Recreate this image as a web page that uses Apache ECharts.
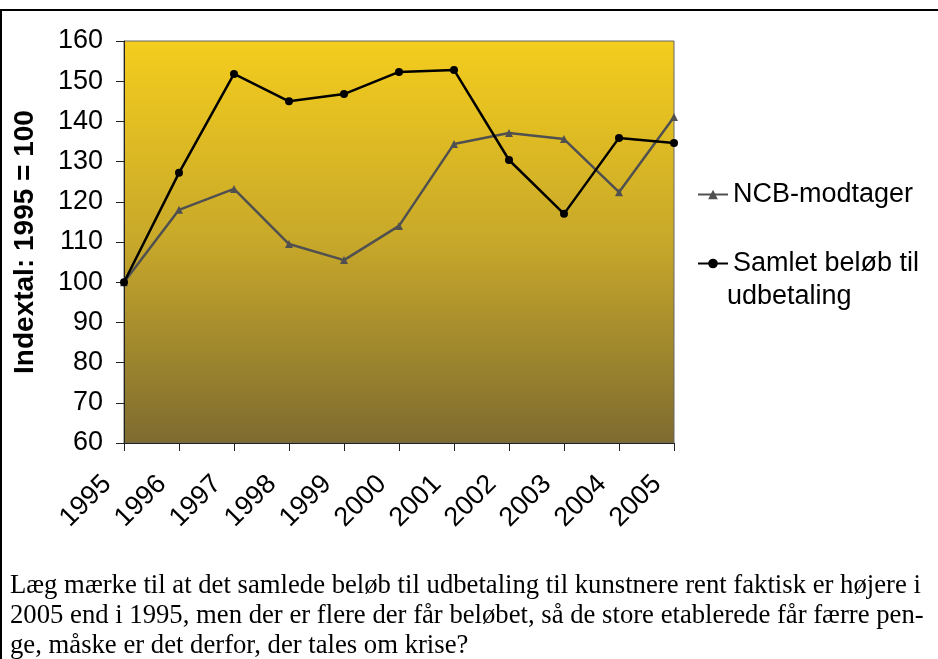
<!DOCTYPE html>
<html>
<head>
<meta charset="utf-8">
<script src="https://cdn.jsdelivr.net/npm/echarts@6/dist/echarts.min.js"></script>
<style>
  html, body { margin: 0; padding: 0; background: #fff; }
  #chart { width: 938px; height: 659px; }
</style>
</head>
<body>
<div id="chart"></div>
<script>
// årstal og indeks (1995 = 100)
const years = ['1995', '1996', '1997', '1998', '1999', '2000', '2001', '2002', '2003', '2004', '2005']
const ncb = [100, 118, 123.2, 109.5, 105.5, 114, 134.4, 137.1, 135.6, 122.4, 141.1]
const samlet = [100, 127.2, 151.8, 145, 146.8, 152.3, 152.8, 130.4, 117, 135.9, 134.6]

const caption = [
  'Læg mærke til at det samlede beløb til udbetaling til kunstnere rent faktisk er højere i',
  '2005 end i 1995, men der er flere der får beløbet, så de store etablerede får færre pen-',
  'ge, måske er det derfor, der tales om krise?'
]

const sans = 'Liberation Sans, Arial, sans-serif'
const chart = echarts.init(document.getElementById('chart'))

chart.setOption({
  animation: false,
  grid: {
    left: 124, top: 41, width: 550, height: 402,
    show: true,
    borderColor: '#666', borderWidth: 1,
    backgroundColor: new echarts.graphic.LinearGradient(0, 0, 0, 1, [
      { offset: 0, color: '#f4cd1d' },
      { offset: 0.5, color: '#c7a82a' },
      { offset: 1, color: '#7e6b30' }
    ])
  },
  xAxis: {
    type: 'category',
    data: years,
    boundaryGap: false,
    axisLine: { lineStyle: { color: '#222', width: 1 } },
    axisTick: { length: 8, lineStyle: { color: '#222' } },
    axisLabel: {
      rotate: 45, fontFamily: sans, fontSize: 27, color: '#000',
      margin: 20, padding: [0, 24, 0, 0]
    }
  },
  yAxis: {
    type: 'value',
    min: 60, max: 160, interval: 10,
    name: 'Indextal: 1995 = 100',
    nameLocation: 'middle',
    nameRotate: 90,
    nameGap: 85,
    nameTextStyle: { fontFamily: sans, fontSize: 28, fontWeight: 'bold', color: '#000' },
    splitLine: { show: false },
    axisLine: { show: true, lineStyle: { color: '#222', width: 1 } },
    axisTick: { show: true, length: 8, lineStyle: { color: '#222' } },
    axisLabel: { fontFamily: sans, fontSize: 27, color: '#000', margin: 21 }
  },
  legend: [
    {
      data: ['NCB-modtager'],
      left: 692, top: 176,
      itemWidth: 30, itemHeight: 12,
      textStyle: { fontFamily: sans, fontSize: 27, color: '#000' }
    },
    {
      data: ['Samlet beløb til udbetaling'],
      formatter: () => 'Samlet beløb til',
      left: 692, top: 245,
      itemWidth: 30, itemHeight: 12,
      textStyle: { fontFamily: sans, fontSize: 27, color: '#000' }
    }
  ],
  graphic: [
    {
      type: 'rect',
      shape: { x: 1, y: 10, width: 1000, height: 1000 },
      style: { fill: 'none', stroke: '#000', lineWidth: 2 },
      silent: true
    },
    {
      type: 'text', left: 727, top: 283,
      style: { text: 'udbetaling', fontFamily: sans, fontSize: 27, fill: '#000' }
    },
    {
      type: 'text', left: 10, top: 571,
      style: {
        text: caption.join('\n'),
        fontFamily: 'Liberation Serif, Times New Roman, serif',
        fontSize: 26.7, lineHeight: 30, fill: '#000'
      }
    }
  ],
  series: [
    {
      name: 'NCB-modtager',
      type: 'line',
      data: ncb,
      symbol: 'triangle', symbolSize: 8,
      lineStyle: { color: '#505050', width: 2.5 },
      itemStyle: { color: '#505050' }
    },
    {
      name: 'Samlet beløb til udbetaling',
      type: 'line',
      data: samlet,
      symbol: 'circle', symbolSize: 8,
      lineStyle: { color: '#000', width: 2.5 },
      itemStyle: { color: '#000' }
    }
  ]
})
</script>
</body>
</html>
